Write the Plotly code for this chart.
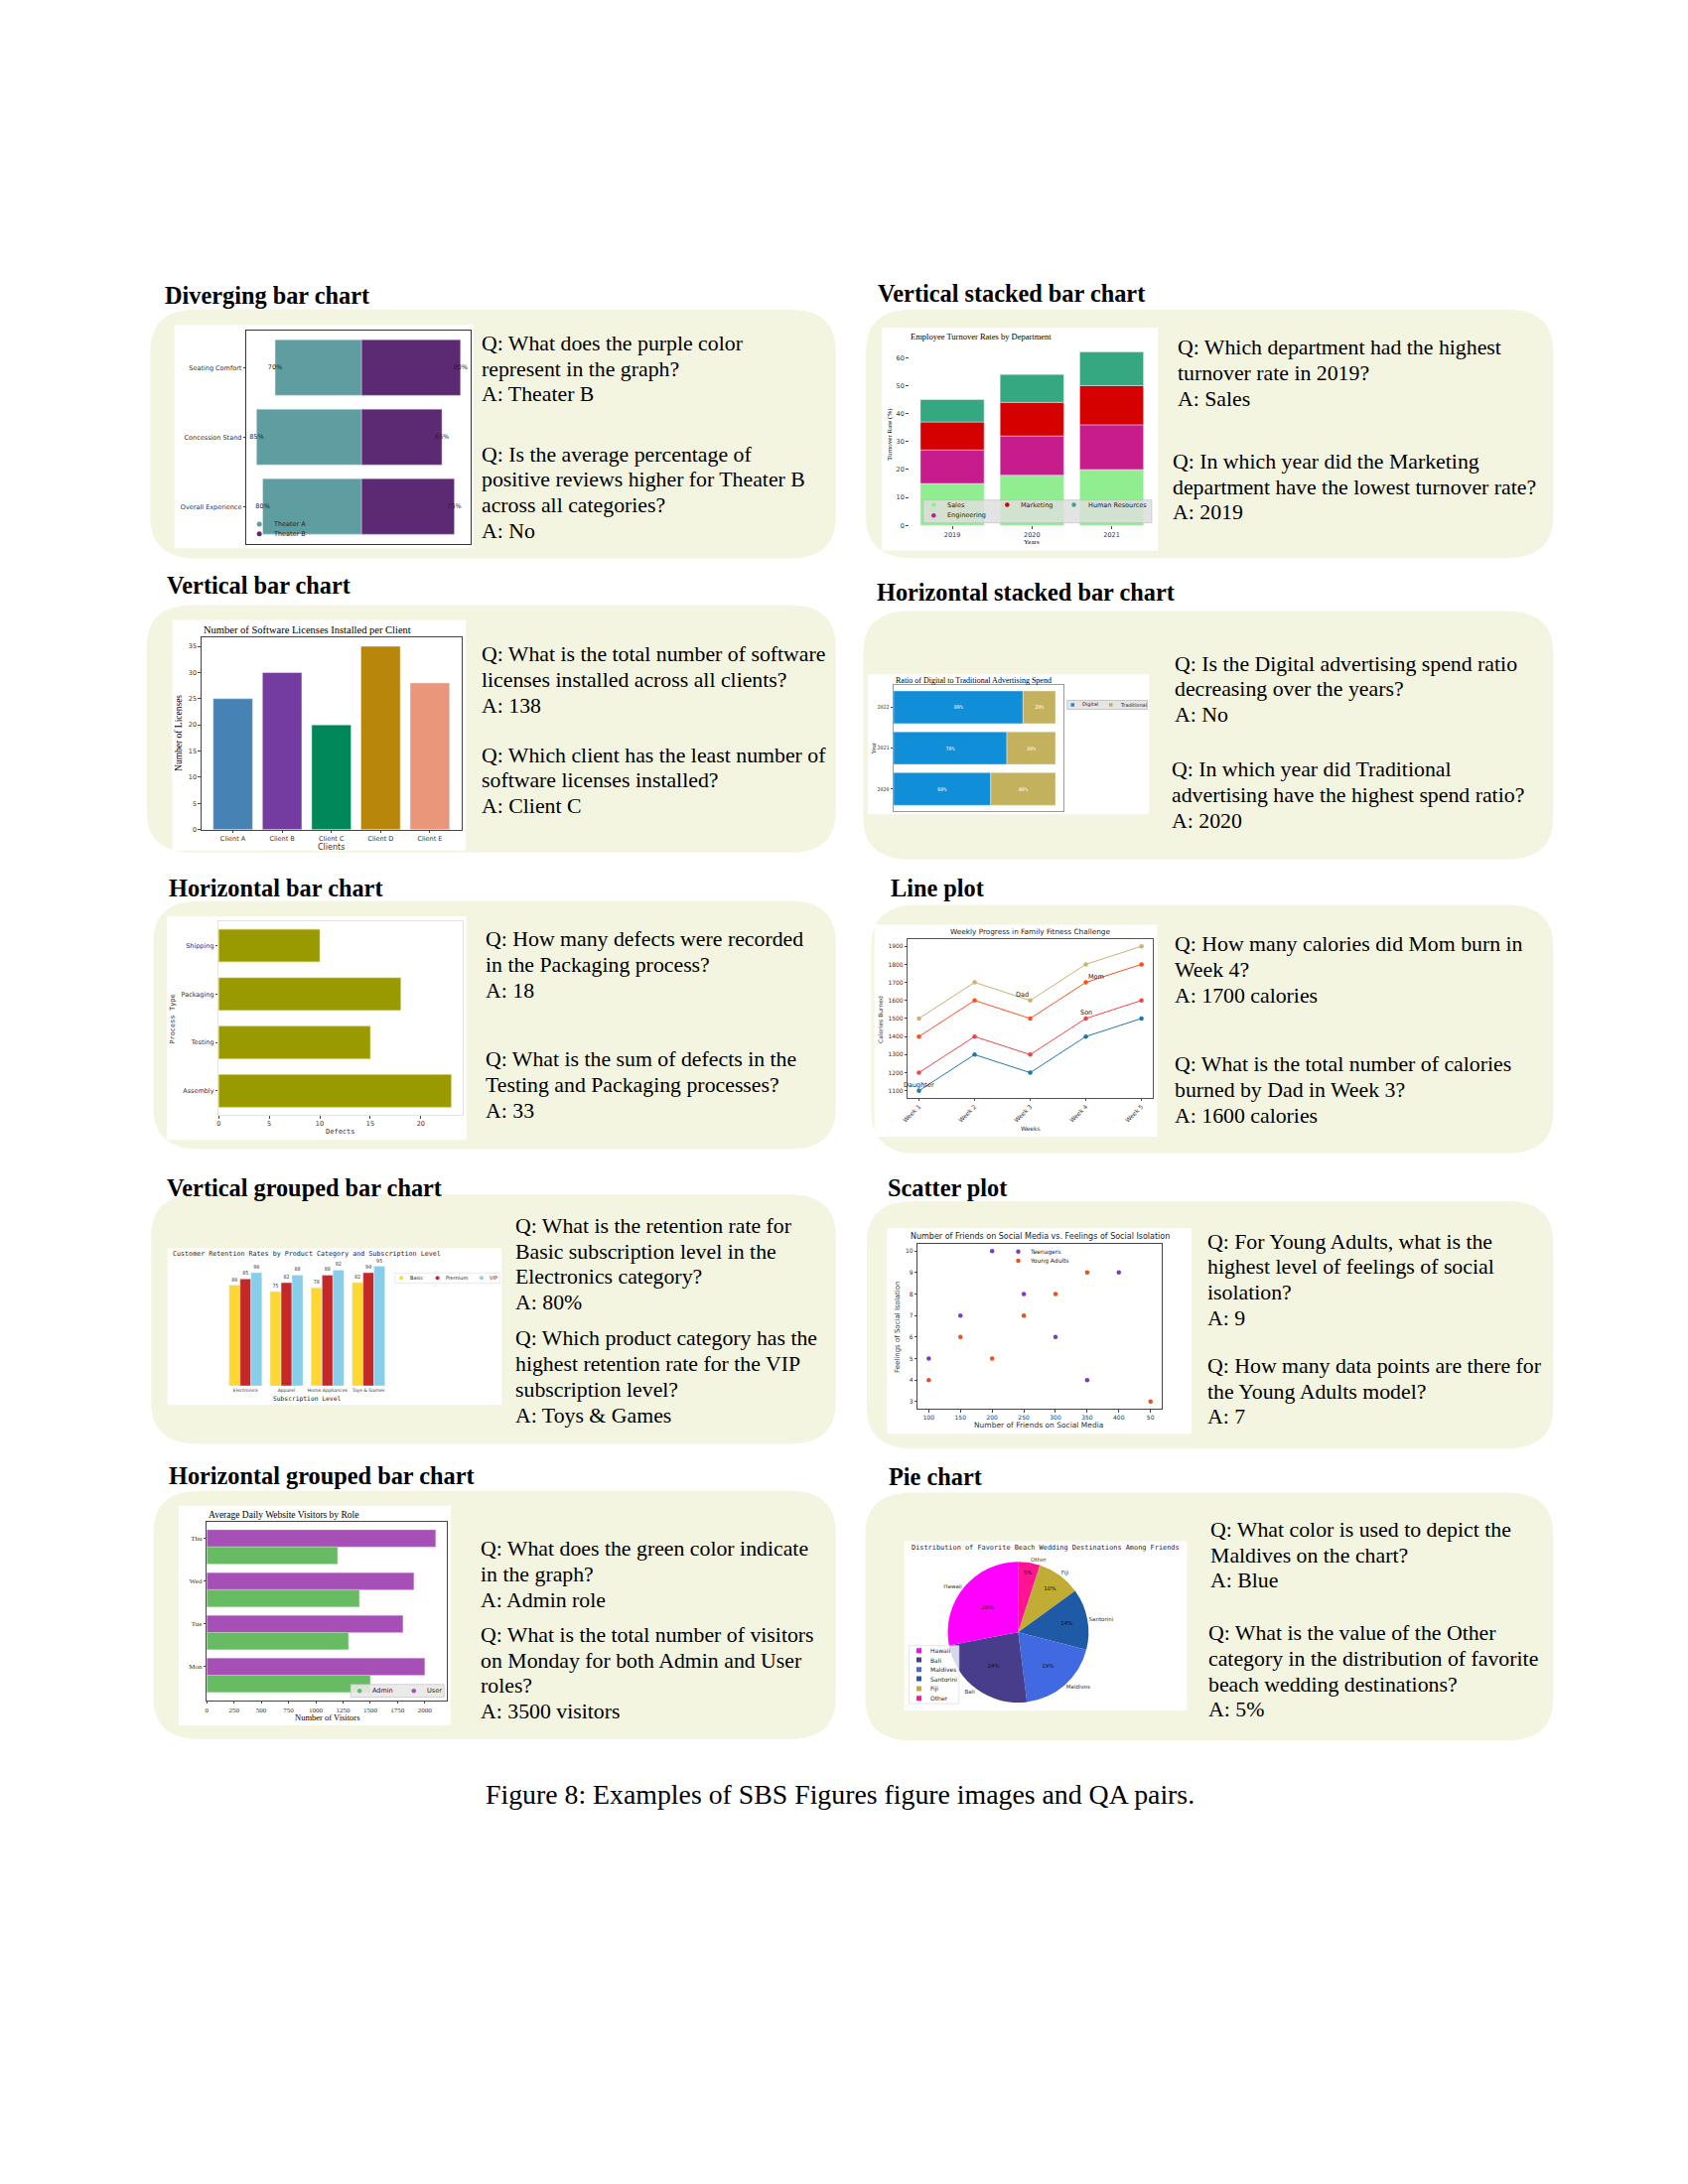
import plotly.graph_objects as go

# ---------------- values ----------------
# diverging bar chart
div_aspects = ["Overall Experience", "Concession Stand", "Seating Comfort"]
div_theater_a = [80, 85, 70]
div_theater_b = [75, 65, 80]

# vertical bar chart
lic_clients = ["Client A", "Client B", "Client C", "Client D", "Client E"]
lic_counts = [25, 30, 20, 35, 28]
lic_colors = ["#4682B4", "#743C9E", "#00875A", "#B8860B", "#E9967A"]

# horizontal bar chart
defect_process = ["Assembly", "Testing", "Packaging", "Shipping"]
defect_counts = [23, 15, 18, 10]

# vertical grouped bar chart
ret_categories = ["Electronics", "Apparel", "Home Appliances", "Toys & Games"]
ret_basic = [80, 75, 78, 82]
ret_premium = [85, 82, 88, 90]
ret_vip = [90, 88, 92, 95]

# horizontal grouped bar chart
visit_days = ["Mon", "Tue", "Wed", "Thu"]
visit_admin = [1500, 1300, 1400, 1200]
visit_user = [2000, 1800, 1900, 2100]

# vertical stacked bar chart
turn_years = ["2019", "2020", "2021"]
turn_sales = [15, 18, 20]
turn_engineering = [12, 14, 16]
turn_marketing = [10, 12, 14]
turn_hr = [8, 10, 12]

# horizontal stacked bar chart
ad_years = ["2020", "2021", "2022"]
ad_digital = [60, 70, 80]
ad_traditional = [40, 30, 20]

# line plot
fit_weeks = ["Week 1", "Week 2", "Week 3", "Week 4", "Week 5"]
fit_dad = [1500, 1700, 1600, 1800, 1900]
fit_mom = [1400, 1600, 1500, 1700, 1800]
fit_son = [1200, 1400, 1300, 1500, 1600]
fit_daughter = [1100, 1300, 1200, 1400, 1500]

# scatter plot (x was stored as text, so "50" sorts last)
soc_teen_friends = ["100", "150", "200", "250", "300", "350", "400"]
soc_teen_isolation = [5, 7, 10, 8, 6, 4, 9]
soc_young_friends = ["100", "150", "200", "250", "300", "350", "50"]
soc_young_isolation = [4, 6, 5, 7, 8, 9, 3]

# pie chart
pie_places = ["Hawaii", "Bali", "Maldives", "Santorini", "Fiji", "Other"]
pie_share = [28, 24, 19, 14, 10, 5]
pie_colors = ["#FF00FF", "#483D8B", "#4169E1", "#1F5AA6", "#C2AD34", "#FF1493"]

SERIF = "Liberation Serif"
SANS = "DejaVu Sans"
MONO = "DejaVu Sans Mono"
CREAM = "#F4F5E1"
TICK = 6.5

# positions are measured on a 1224 x 1584 grid of the page,
# with a small correction so they line up with the scan
PW, PH = 1224.0, 1584.0


def fx(x):
    return (1.008 * x - 12.9) / PW


def fy(y):
    return 1 - (1.0028 * y - 6.6) / PH


fig = go.Figure()
shapes, annotations, legends = [], [], {}
leg_count = [0]


def xy(n):
    return ("x", "y") if n == 1 else ("x%d" % n, "y%d" % n)


def set_axes(n, box, xr, yr, xkw=None, ykw=None):
    x0, x1, y0, y1 = box
    sfx = "" if n == 1 else str(n)
    common = dict(showgrid=False, zeroline=False, showline=False, ticks="outside",
                  ticklen=2.5, tickwidth=0.7, tickcolor="#444", fixedrange=True,
                  tickfont=dict(family=SANS, size=TICK, color="#333"))
    xa = dict(common, domain=[fx(x0), fx(x1)], range=xr, anchor="y" + sfx)
    ya = dict(common, domain=[fy(y1), fy(y0)], range=yr, anchor="x" + sfx)
    xa.update(xkw or {})
    ya.update(ykw or {})
    fig.update_layout({"xaxis" + sfx: xa, "yaxis" + sfx: ya})


def frame(color="#333", width=0.8):
    return dict(showline=True, mirror=True, linecolor=color, linewidth=width)


def note(text, x, y, size, family=SERIF, color="black", xanchor="left",
         yanchor="middle", angle=0):
    annotations.append(dict(text=text, x=fx(x), y=fy(y), xref="paper", yref="paper",
                            xanchor=xanchor, yanchor=yanchor, showarrow=False,
                            textangle=angle, font=dict(family=family, size=size, color=color)))


def rect(x0, y0, x1, y1, fill, line="rgba(0,0,0,0)", lw=0, layer="below"):
    shapes.append(dict(type="rect", xref="paper", yref="paper", x0=fx(x0), x1=fx(x1),
                       y0=fy(y1), y1=fy(y0), fillcolor=fill, layer=layer,
                       line=dict(color=line, width=lw)))


def rounded_box(x0, y0, x1, y1, rx=34, ry=30):
    ax, ay = rx / PW, ry / PH
    X0, X1, B, T = fx(x0), fx(x1), fy(y1), fy(y0)
    path = ("M %f,%f L %f,%f Q %f,%f %f,%f L %f,%f Q %f,%f %f,%f L %f,%f Q %f,%f %f,%f "
            "L %f,%f Q %f,%f %f,%f Z" % (
                X0 + ax, T, X1 - ax, T, X1, T, X1, T - ay, X1, B + ay, X1, B, X1 - ax, B,
                X0 + ax, B, X0, B, X0, B + ay, X0, T - ay, X0, T, X0 + ax, T))
    shapes.append(dict(type="path", path=path, xref="paper", yref="paper",
                       fillcolor=CREAM, line=dict(width=0), layer="below"))


def new_legend(marker_x, y):
    # one legend per key so the rows can sit as tight as in the source image;
    # the legend symbol is drawn 20px in from the legend's left edge
    leg_count[0] += 1
    key = "legend" if leg_count[0] == 1 else "legend%d" % leg_count[0]
    legends[key] = dict(x=fx(marker_x) - 20 / 1700, y=fy(y), xref="paper", yref="paper",
                        xanchor="left", yanchor="middle", bgcolor="rgba(0,0,0,0)",
                        borderwidth=0, tracegroupgap=0, itemclick=False, itemdoubleclick=False,
                        font=dict(family=SANS, size=5, color="#222"))
    return key


def key_entry(name, color, marker_x, text_x, y, n, symbol="circle", size=5, fsize=TICK):
    ax, ay = xy(n)
    fig.add_trace(go.Scatter(x=[None], y=[None], mode="markers", name="",
                             legend=new_legend(marker_x, y),
                             marker=dict(color=color, size=size, symbol=symbol),
                             xaxis=ax, yaxis=ay, hoverinfo="skip", showlegend=True))
    note(name, text_x, y, fsize, family=SANS, color="#222")


def qa(x, y, lines):
    for i, line in enumerate(lines):
        note(line, x, y + i * 18.5, 21.8)


# ---------------- page frames ----------------
panels = [
    # heading, heading x, heading y, box, white image
    ("Diverging bar chart", 120, 214.8, (110.6, 225, 605.8, 405.5), (128, 236.4, 344, 398)),
    ("Vertical bar chart", 120.9, 424.8, (108, 439.2, 605.8, 618.5), (126.6, 450, 338.5, 617)),
    ("Horizontal bar chart", 122.5, 643.9, (112.8, 653.5, 605.8, 833.5), (122.5, 664.8, 338.9, 826.8)),
    ("Vertical grouped bar chart", 120.9, 861.5, (111.2, 866.3, 605.8, 1047), (123.1, 905.2, 364.3, 1018.7)),
    ("Horizontal grouped bar chart", 122.5, 1069.8, (112.8, 1081.1, 605.8, 1261), (131.2, 1091.9, 327.6, 1251)),
    ("Vertical stacked bar chart", 634.6, 213.6, (627.5, 225.1, 1124, 405.2), (639.1, 238.3, 838.5, 399.6)),
    ("Horizontal stacked bar chart", 633.7, 430, (625.6, 443.5, 1124, 623.5), (628.9, 489.6, 832, 590.9)),
    ("Line plot", 644.3, 643.9, (631.4, 656.4, 1124, 836.5), (633.7, 670.8, 837.9, 824.4)),
    ("Scatter plot", 641.7, 861.5, (628.2, 871.1, 1124, 1050.5), (642.7, 890.8, 862.6, 1039.6)),
    ("Pie chart", 642.4, 1070.8, (627.2, 1082.3, 1124, 1262), (655.2, 1117.6, 859.4, 1240.2)),
]
for title, hx, hy, box, img in panels:
    rounded_box(*box)
    rect(*img, fill="white")
    note("<b>%s</b>" % title, hx, hy, 24.3)

qa(348.5, 249.6, ["Q: What does the purple color", "represent in the graph?", "A: Theater B"])
qa(348.5, 330.0, ["Q: Is the average percentage of", "positive reviews higher for Theater B",
                  "across all categories?", "A: No"])
qa(348.5, 475.2, ["Q: What is the total number of software",
                  "licenses installed across all clients?", "A: 138"])
qa(348.5, 547.9, ["Q: Which client has the least number of", "software licenses installed?",
                  "A: Client C"])
qa(351.4, 681.6, ["Q: How many defects were recorded", "in the Packaging process?", "A: 18"])
qa(351.4, 768.5, ["Q: What is the sum of defects in the", "Testing and Packaging processes?", "A: 33"])
qa(372.6, 889.1, ["Q: What is the retention rate for", "Basic subscription level in the",
                  "Electronics category?", "A: 80%"])
qa(372.6, 970.7, ["Q: Which product category has the", "highest retention rate for the VIP",
                  "subscription level?", "A: Toys &amp; Games"])
qa(347.5, 1123.1, ["Q: What does the green color indicate", "in the graph?", "A: Admin role"])
qa(347.5, 1185.5, ["Q: What is the total number of visitors", "on Monday for both Admin and User",
                   "roles?", "A: 3500 visitors"])
qa(851.0, 252.7, ["Q: Which department had the highest", "turnover rate in 2019?", "A: Sales"])
qa(848.0, 335.3, ["Q: In which year did the Marketing",
                  "department have the lowest turnover rate?", "A: 2019"])
qa(849.0, 481.7, ["Q: Is the Digital advertising spend ratio", "decreasing over the years?", "A: No"])
qa(847.1, 558.5, ["Q: In which year did Traditional",
                  "advertising have the highest spend ratio?", "A: 2020"])
qa(849.0, 685.2, ["Q: How many calories did Mom burn in", "Week 4?", "A: 1700 calories"])
qa(849.0, 772.1, ["Q: What is the total number of calories", "burned by Dad in Week 3?",
                  "A: 1600 calories"])
qa(872.9, 900.4, ["Q: For Young Adults, what is the", "highest level of feelings of social",
                  "isolation?", "A: 9"])
qa(872.9, 990.6, ["Q: How many data points are there for", "the Young Adults model?", "A: 7"])
qa(874.8, 1109.2, ["Q: What color is used to depict the", "Maldives on the chart?", "A: Blue"])
qa(873.8, 1184.3, ["Q: What is the value of the Other",
                   "category in the distribution of favorite", "beach wedding destinations?",
                   "A: 5%"])

note("Figure 8: Examples of SBS Figures figure images and QA pairs.", 609.0, 1301, 27.8,
     xanchor="center")

# ---------------- 1. diverging bar chart ----------------
ax, ay = xy(1)
set_axes(1, (180, 342, 240, 395), [-93.25, 88.25], [-0.54, 2.54],
         xkw=dict(frame(), showticklabels=False, ticks=""),
         ykw=dict(frame(), type="category"))
fig.add_trace(go.Bar(y=div_aspects, x=[-v for v in div_theater_a], orientation="h", width=0.8,
                     marker=dict(color="#5F9EA0", line=dict(color="#D3E3E3", width=0.5)),
                     xaxis=ax, yaxis=ay, showlegend=False, hoverinfo="skip"))
fig.add_trace(go.Bar(y=div_aspects, x=div_theater_b, orientation="h", width=0.8,
                     marker=dict(color="#5C2A73", line=dict(color="#C9B6D2", width=0.5)),
                     xaxis=ax, yaxis=ay, showlegend=False, hoverinfo="skip"))
fig.add_trace(go.Scatter(y=div_aspects, x=[-v for v in div_theater_a], mode="text",
                         text=["%d%%" % v for v in div_theater_a], cliponaxis=False,
                         textfont=dict(family=SANS, size=TICK, color="#222"),
                         xaxis=ax, yaxis=ay, showlegend=False, hoverinfo="skip"))
fig.add_trace(go.Scatter(y=div_aspects, x=div_theater_b, mode="text",
                         text=["%d%%" % v for v in div_theater_b], cliponaxis=False,
                         textfont=dict(family=SANS, size=TICK, color="#222"),
                         xaxis=ax, yaxis=ay, showlegend=False, hoverinfo="skip"))
key_entry("Theater A", "#5F9EA0", 189.3, 197.5, 380.6, 1)
key_entry("Theater B", "#5C2A73", 189.3, 197.5, 387.6, 1)

# ---------------- 2. vertical bar chart ----------------
ax, ay = xy(2)
set_axes(2, (147.5, 335.3, 462.5, 601.9), [-0.64, 4.64], [0, 36.75],
         xkw=dict(frame("#444"), type="category"),
         ykw=dict(frame("#444"), tickvals=[0, 5, 10, 15, 20, 25, 30, 35]))
fig.add_trace(go.Bar(x=lic_clients, y=lic_counts, width=0.8, marker=dict(color=lic_colors),
                     xaxis=ax, yaxis=ay, showlegend=False, hoverinfo="skip"))
note("Number of Software Licenses Installed per Client", 147.5, 457.2, 10.5)
note("Number of Licenses", 131.5, 532, 9.5, angle=-90, xanchor="center")
note("Clients", 241.4, 614.5, 8, family=SANS, color="#333", xanchor="center")

# ---------------- 3. horizontal bar chart ----------------
ax, ay = xy(3)
set_axes(3, (160, 336.3, 668.4, 808.8), [0, 24.15], [-0.5, 3.5],
         xkw=dict(frame("#E2E2E2"), tickvals=[0, 5, 10, 15, 20]),
         ykw=dict(frame("#E2E2E2"), type="category"))
fig.add_trace(go.Bar(y=defect_process, x=defect_counts, orientation="h", width=0.67,
                     marker=dict(color="#999900", line=dict(color="#C9C950", width=0.6)),
                     xaxis=ax, yaxis=ay, showlegend=False, hoverinfo="skip"))
note("Process Type", 126.8, 738.7, 7, family=MONO, color="#333", angle=-90, xanchor="center")
note("Defects", 247.9, 820.8, 7, family=MONO, color="#333", xanchor="center")

# ---------------- 4. vertical grouped bar chart ----------------
ax, ay = xy(4)
set_axes(4, (161.6, 286, 913.8, 1005), [-0.6, 3.6], [0, 100],
         xkw=dict(type="category", ticks="", tickangle=0,
                  tickfont=dict(family=SANS, size=4.6, color="#333")),
         ykw=dict(showticklabels=False, ticks=""))
for vals, color, off in [(ret_basic, "#FDD835", -0.4), (ret_premium, "#C62828", -0.1333),
                         (ret_vip, "#87CEEB", 0.1333)]:
    fig.add_trace(go.Bar(x=ret_categories, y=vals, width=0.2667, offset=off,
                         marker=dict(color=color), text=[str(v) for v in vals],
                         textposition="outside", constraintext="none", cliponaxis=False,
                         textfont=dict(family=MONO, size=5, color="#333"),
                         xaxis=ax, yaxis=ay, showlegend=False, hoverinfo="skip"))
note("Customer Retention Rates by Product Category and Subscription Level", 125.2, 909,
     6.7, family=MONO, color="#222")
note("Subscription Level", 223.8, 1014.1, 6.3, family=MONO, color="#222", xanchor="center")
rect(287.4, 923.2, 363, 930.6, fill="white", line="#DDDDDD", lw=0.6, layer="above")
key_entry("Basic", "#FDD835", 291.9, 296.5, 926.8, 4, size=4, fsize=5)
key_entry("Premium", "#C62828", 318.0, 322.8, 926.8, 4, size=4, fsize=5)
key_entry("VIP", "#87CEEB", 349.8, 354.5, 926.8, 4, size=4, fsize=5)

# ---------------- 5. horizontal grouped bar chart ----------------
ax, ay = xy(5)
serif_tick = dict(family=SERIF, size=7, color="#333")
set_axes(5, (151.4, 325, 1103.4, 1233), [0, 2205], [-0.79, 3.39],
         xkw=dict(frame("#444"), tickvals=[0, 250, 500, 750, 1000, 1250, 1500, 1750, 2000],
                  tickfont=serif_tick),
         ykw=dict(frame("#444"), type="category", tickfont=serif_tick))
fig.add_trace(go.Bar(y=visit_days, x=visit_user, orientation="h", width=0.4, offset=-0.2,
                     marker=dict(color="#A64FB7", line=dict(color="#D9B3E0", width=0.5)),
                     xaxis=ax, yaxis=ay, showlegend=False, hoverinfo="skip"))
fig.add_trace(go.Bar(y=visit_days, x=visit_admin, orientation="h", width=0.4, offset=-0.6,
                     marker=dict(color="#66BB63", line=dict(color="#B5DDB3", width=0.5)),
                     xaxis=ax, yaxis=ay, showlegend=False, hoverinfo="skip"))
note("Average Daily Website Visitors by Role", 151.0, 1098.6, 9.5)
note("Number of Visitors", 238.2, 1245.0, 8.5, xanchor="center")
rect(255.3, 1221.3, 322.8, 1230.6, fill="rgba(232,232,232,0.9)", line="#BBBBBB", lw=0.6,
     layer="above")
key_entry("Admin", "#66BB63", 261.7, 269.8, 1226.0, 5, size=4.5)
key_entry("User", "#A64FB7", 300.9, 308.7, 1226.0, 5, size=4.5)

# ---------------- 6. vertical stacked bar chart ----------------
ax, ay = xy(6)
set_axes(6, (658.8, 836.1, 249.6, 381.6), [-0.54, 2.54], [0, 65.1],
         xkw=dict(type="category"),
         ykw=dict(tickvals=[0, 10, 20, 30, 40, 50, 60]))
stack_base = [0, 0, 0]
for name, vals, color in [("Sales", turn_sales, "#90EE90"),
                          ("Engineering", turn_engineering, "#C71C8B"),
                          ("Marketing", turn_marketing, "#D50000"),
                          ("Human Resources", turn_hr, "#35A882")]:
    fig.add_trace(go.Bar(x=turn_years, y=vals, base=list(stack_base), width=0.8,
                         marker=dict(color=color), xaxis=ax, yaxis=ay,
                         showlegend=False, hoverinfo="skip"))
    stack_base = [b + v for b, v in zip(stack_base, vals)]
note("Employee Turnover Rates by Department", 658.3, 244.8, 8.5)
note("Turnover Rate (%)", 644.3, 315.6, 7, angle=-90, xanchor="center")
note("Years", 747.5, 393.6, 7, xanchor="center")
rect(669, 363.1, 834, 379.7, fill="rgba(222,222,222,0.85)", line="#BBBBBB", lw=0.6,
     layer="above")
key_entry("Sales", "#90EE90", 676.4, 684.6, 366.6, 6, size=4.5)
key_entry("Marketing", "#D50000", 729.5, 737.7, 366.6, 6, size=4.5)
key_entry("Human Resources", "#35A882", 777.7, 786.6, 366.6, 6, size=4.5)
key_entry("Engineering", "#C71C8B", 676.4, 684.6, 374.4, 6, size=4.5)

# ---------------- 7. horizontal stacked bar chart ----------------
ax, ay = xy(7)
set_axes(7, (647.5, 770.3, 497.3, 588.5), [0, 105], [-0.54, 2.54],
         xkw=dict(frame("#9A9A9A"), showticklabels=False, ticks=""),
         ykw=dict(frame("#9A9A9A"), type="category",
                  tickfont=dict(family=MONO, size=5, color="#333")))
fig.add_trace(go.Bar(y=ad_years, x=ad_digital, orientation="h", width=0.8,
                     marker=dict(color="#118ED8"), text=["%d%%" % v for v in ad_digital],
                     textposition="inside", insidetextanchor="middle", constraintext="none",
                     textfont=dict(family=MONO, size=5, color="white"),
                     xaxis=ax, yaxis=ay, showlegend=False, hoverinfo="skip"))
fig.add_trace(go.Bar(y=ad_years, x=ad_traditional, base=ad_digital, orientation="h", width=0.8,
                     marker=dict(color="#C4B15E"), text=["%d%%" % v for v in ad_traditional],
                     textposition="inside", insidetextanchor="middle", constraintext="none",
                     textfont=dict(family=MONO, size=5, color="white"),
                     xaxis=ax, yaxis=ay, showlegend=False, hoverinfo="skip"))
note("Ratio of Digital to Traditional Advertising Spend", 647.6, 493.9, 8)
note("Year", 632.9, 543.1, 6, angle=-90, xanchor="center")
rect(772.9, 508.3, 830.8, 514.8, fill="rgba(228,228,228,0.95)", line="#AAAAAA", lw=0.6,
     layer="above")
key_entry("Digital", "#118ED8", 776.8, 782.4, 511.5, 7, symbol="square", size=3.5, fsize=5)
key_entry("Traditional", "#C4B15E", 804.4, 810.0, 511.5, 7, symbol="square", size=3.5, fsize=5)

# ---------------- 8. line plot ----------------
ax, ay = xy(8)
set_axes(8, (657.8, 834.6, 681.1, 796.1), [-0.2, 4.2], [1062, 1941],
         xkw=dict(frame("#555"), type="category", tickangle=-45,
                  tickfont=dict(family=SANS, size=6, color="#333")),
         ykw=dict(frame("#555"), tickvals=[1100, 1200, 1300, 1400, 1500, 1600, 1700, 1800, 1900],
                  tickfont=dict(family=SANS, size=6, color="#333")))
for name, vals, color in [("Dad", fit_dad, "#C8B273"), ("Mom", fit_mom, "#FF4F1E"),
                          ("Son", fit_son, "#F6434A"), ("Daughter", fit_daughter, "#1F78B0")]:
    fig.add_trace(go.Scatter(x=fit_weeks, y=vals, mode="lines+markers",
                             line=dict(color=color, width=1), marker=dict(color=color, size=4.5),
                             xaxis=ax, yaxis=ay, showlegend=False, hoverinfo="skip"))
for name, week, vals, anchor in [("Mom", 3, fit_mom, "left"), ("Dad", 2, fit_dad, "right"),
                                 ("Son", 3, fit_son, "center"),
                                 ("Daughter", 0, fit_daughter, "center")]:
    annotations.append(dict(text=name, x=fit_weeks[week], y=vals[week], xref=ax, yref=ay,
                            xanchor=anchor, yanchor="bottom", showarrow=False,
                            font=dict(family=SANS, size=6.5, color="#222")))
note("Weekly Progress in Family Fitness Challenge", 746.2, 676.2, 7.3, family=SANS,
     color="#222", xanchor="center")
note("Calories Burned", 637.8, 739.2, 6, family=SANS, color="#333", angle=-90,
     xanchor="center")
note("Weeks", 746.2, 818.6, 6, family=SANS, color="#333", xanchor="center")

# ---------------- 9. scatter plot ----------------
ax, ay = xy(9)
set_axes(9, (664.9, 841.1, 901.8, 1021.8), [-0.35, 7.35], [2.65, 10.35],
         xkw=dict(frame("#444"), type="category",
                  tickfont=dict(family=SANS, size=6, color="#333")),
         ykw=dict(frame("#444"), tickvals=[3, 4, 5, 6, 7, 8, 9, 10],
                  tickfont=dict(family=SANS, size=6, color="#333")))
fig.add_trace(go.Scatter(x=soc_teen_friends, y=soc_teen_isolation, mode="markers",
                         marker=dict(color="#7B3DC0", size=4.5), xaxis=ax, yaxis=ay,
                         showlegend=False, hoverinfo="skip"))
fig.add_trace(go.Scatter(x=soc_young_friends, y=soc_young_isolation, mode="markers",
                         marker=dict(color="#E8521E", size=4.5), xaxis=ax, yaxis=ay,
                         showlegend=False, hoverinfo="skip"))
note("Number of Friends on Social Media vs. Feelings of Social Isolation", 753.7, 896.5, 8,
     family=SANS, color="#222", xanchor="center")
note("Feelings of Social Isolation", 650.4, 961.8, 7, family=SANS, color="#333", angle=-90,
     xanchor="center")
note("Number of Friends on Social Media", 752.6, 1033.1, 7.5, family=SANS, color="#333",
     xanchor="center")
key_entry("Teenagers", "#7B3DC0", 737.5, 744.6, 907.6, 9, size=4.5, fsize=6)
key_entry("Young Adults", "#E8521E", 737.5, 744.6, 914.3, 9, size=4.5, fsize=6)

# ---------------- 10. pie chart ----------------
# drawn clockwise from 12 o'clock in reverse order, which puts Hawaii
# just left of the top and runs the slices counter-clockwise as in the source
cx, cy, r = 737.5, 1183.5, 51
pie_domain = dict(x=[fx(cx - r), fx(cx + r)], y=[fy(cy + r), fy(cy - r)])
fig.add_trace(go.Pie(labels=pie_places[::-1], values=pie_share[::-1], sort=False,
                     direction="clockwise", rotation=0,
                     marker=dict(colors=pie_colors[::-1], line=dict(width=0)),
                     textinfo="label", textposition="outside",
                     textfont=dict(family=SANS, size=5.5, color="#333"),
                     domain=pie_domain, showlegend=False, hoverinfo="skip"))
fig.add_trace(go.Pie(labels=pie_places[::-1], values=pie_share[::-1], sort=False,
                     direction="clockwise", rotation=0,
                     marker=dict(colors=["rgba(0,0,0,0)"] * len(pie_places),
                                 line=dict(width=0)),
                     texttemplate="%{percent:.0%}", textposition="inside",
                     insidetextorientation="horizontal",
                     textfont=dict(family=SANS, size=5.5, color="#111"),
                     domain=pie_domain, showlegend=False, hoverinfo="skip"))
note("Distribution of Favorite Beach Wedding Destinations Among Friends", 757.5, 1121.9, 6.9,
     family=MONO, color="#222", xanchor="center")
rect(658.7, 1193.2, 694.8, 1235.2, fill="rgba(255,255,255,0.8)", line="#D5D5D5", lw=0.6,
     layer="above")
pie_rows = [1196.8, 1203.5, 1210.5, 1217.2, 1224.4, 1231.3]
for place, color, yy in zip(pie_places, pie_colors, pie_rows):
    key_entry(place, color, 665.8, 672.6, yy, 9, symbol="square", size=5, fsize=6)

fig.update_layout(
    width=1700, height=2200,
    margin=dict(l=0, r=0, t=0, b=0),
    paper_bgcolor="white", plot_bgcolor="white",
    barmode="overlay", showlegend=True,
    shapes=shapes, annotations=annotations,
    **legends
)

fig.write_html("out.html")
